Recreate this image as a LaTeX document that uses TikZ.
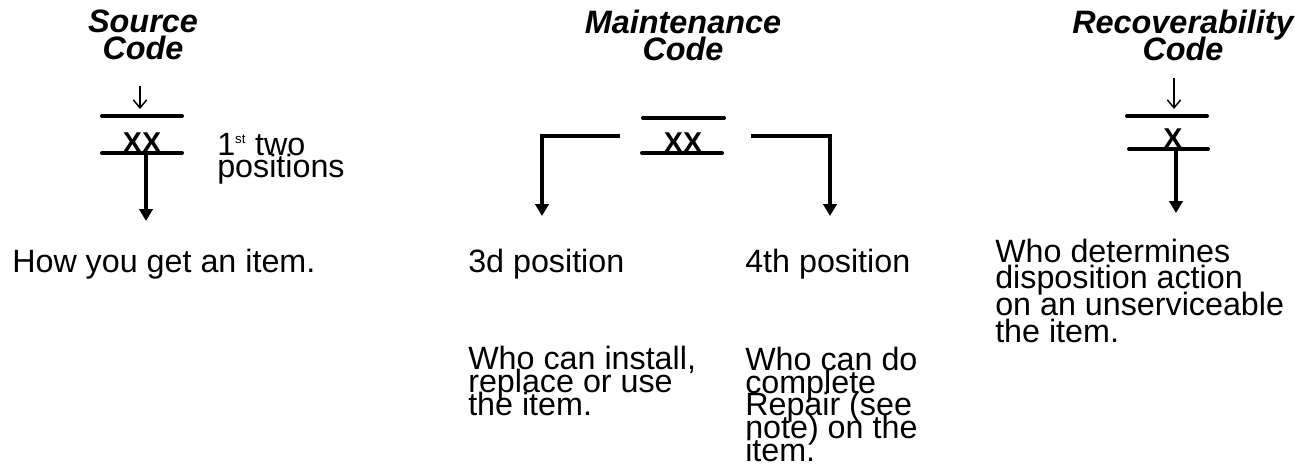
\documentclass[tikz,border=0pt]{standalone}
\usepackage{fontspec}
\setmainfont{Liberation Sans}
\usetikzlibrary{arrows.meta}
\newcommand\tightls{\lineskiplimit=-100pt\relax\lineskip=0pt\relax}
\begin{document}
\begin{tikzpicture}[x=0.75pt,y=-0.75pt,
  title/.style={font=\fontsize{24.3}{20.2}\selectfont\tightls\bfseries\itshape,align=center,inner sep=0pt,anchor=base},
  codetxt/.style={font=\fontsize{21.5}{22}\selectfont\bfseries,inner sep=0pt,anchor=base},
  body/.style={font=\fontsize{24.2}{17}\selectfont\tightls,align=left,inner sep=0pt,anchor=base west},
  bar/.style={line width=3pt,line cap=round},
  thick arrow/.style={line width=3pt,-{Triangle[width=10pt,length=9pt]}},
  thin arrow/.style={line width=1.1pt,-{Straight Barb[length=6pt,width=10pt,line width=1.1pt]}},
  bracket/.style={line width=3pt,-{Triangle[width=10pt,length=9pt]}}]
\useasboundingbox (0,0) rectangle (1297,472);

% ---------- Source code ----------
\node[title] (stitle) at (143,59) {Source\\Code};
\coordinate (sa0) at (140,86);
\coordinate (sb1l) at (102,116); \coordinate (sb1r) at (182,116);
\coordinate (sb2l) at (102,153); \coordinate (sb2r) at (182,153);
\node[codetxt] (scode) at (142,152) {XX};
\coordinate (sdown0) at (146,153); \coordinate (sdown1) at (146,221);
\draw[thin arrow] (sa0) -- (140,109);
\draw[bar] (sb1l) -- (sb1r);
\draw[bar] (sb2l) -- (sb2r);
\draw[thick arrow] (sdown0) -- (sdown1);
\node[font=\fontsize{24.2}{16.1}\selectfont\tightls,align=left,inner sep=0pt,anchor=base west] (spos) at (217,177) {1\textsuperscript{\fontsize{10}{10}\selectfont st} two\\positions};
\node[body] (show) at (12,272) {How you get an item.};

% ---------- Maintenance code ----------
\node[title] (mtitle) at (683,60) {Maintenance\\Code};
\coordinate (mb1l) at (643,118); \coordinate (mb1r) at (724,118);
\coordinate (mb2l) at (642,153); \coordinate (mb2r) at (722,153);
\node[codetxt] (mcode) at (683,152) {XX};
\draw[bar] (mb1l) -- (mb1r);
\draw[bar] (mb2l) -- (mb2r);
\coordinate (ml0) at (620,136); \coordinate (ml1) at (542,136); \coordinate (ml2) at (542,216);
\coordinate (mr0) at (751,136); \coordinate (mr1) at (830,136); \coordinate (mr2) at (830,216);
\draw[bracket] (ml0) -- (ml1) -- (ml2);
\draw[bracket] (mr0) -- (mr1) -- (mr2);
\node[body] (m3) at (468,272) {3d position};
\node[body] (m4) at (745,272) {4th position};
\node[body] (m3t) at (468,415) {Who can install,\\replace or use\\the item.};
\node[body] (m4t) at (745,461) {Who can do\\complete\\Repair (see\\note) on the\\item.};

% ---------- Recoverability code ----------
\node[title] (rtitle) at (1183,60) {Recoverability\\Code};
\coordinate (ra0) at (1174,78);
\coordinate (rb1l) at (1127,116); \coordinate (rb1r) at (1207,116);
\coordinate (rb2l) at (1129,149); \coordinate (rb2r) at (1208,149);
\node[codetxt] (rcode) at (1173,148) {X};
\draw[thin arrow] (ra0) -- (1174,109);
\draw[bar] (rb1l) -- (rb1r);
\draw[bar] (rb2l) -- (rb2r);
\coordinate (rdown0) at (1176,149); \coordinate (rdown1) at (1176,213);
\draw[thick arrow] (rdown0) -- (rdown1);
\node[font=\fontsize{24.2}{20}\selectfont\tightls,align=left,inner sep=0pt,anchor=base west] (rtext) at (995,342) {Who determines\\disposition action\\on an unserviceable\\the item.};
\end{tikzpicture}
\end{document}
